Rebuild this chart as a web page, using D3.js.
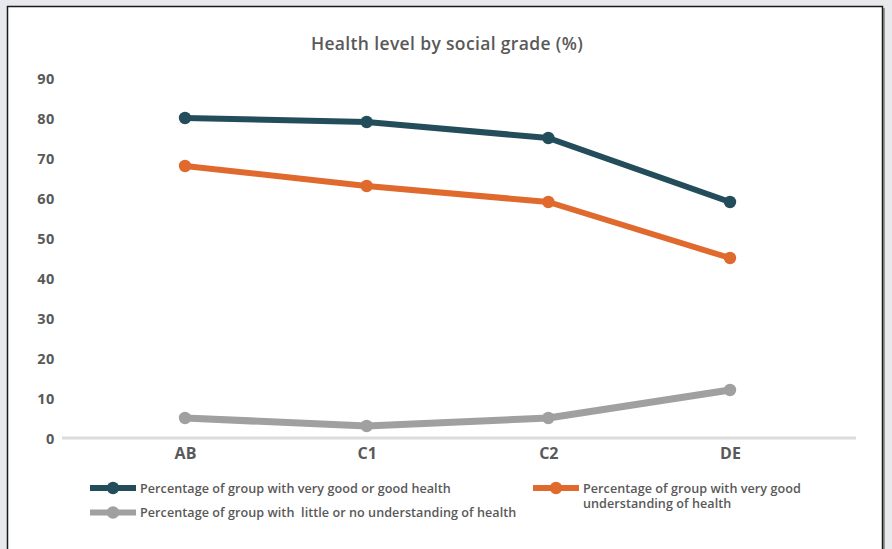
<!DOCTYPE html>
<html>
<head>
<meta charset="utf-8">
<script src="https://cdn.jsdelivr.net/npm/d3@7"></script>
<style>
  html, body { margin: 0; padding: 0; background: #e8e9ec; }
  svg { display: block; }
  text { font-family: "Open Sans", "Noto Sans", sans-serif; fill: #595959; white-space: pre; }
</style>
</head>
<body>
<svg id="chart" width="892" height="549"></svg>
<script>
// Social grades on the x axis
const grades = ["AB", "C1", "C2", "DE"];

// Percentages per grade
const goodHealth = [80, 79, 75, 59];
const goodUnderstanding = [68, 63, 59, 45];
const littleUnderstanding = [5, 3, 5, 12];

const yTicks = [0, 10, 20, 30, 40, 50, 60, 70, 80, 90];

const seriesNames = [
  "Percentage of group with very good or good health",
  "Percentage of group with very good understanding of health",
  "Percentage of group with  little or no understanding of health"
];

const title = "Health level by social grade (%)";

const series = [
  { name: seriesNames[0], values: goodHealth, color: "#244d5b", width: 6 },
  { name: seriesNames[1], values: goodUnderstanding, color: "#e06a2e", width: 6 },
  { name: seriesNames[2], values: littleUnderstanding, color: "#a0a0a0", width: 7 }
];

const svg = d3.select("#chart");

// Card with a dark border and a soft right-hand shadow
svg.append("rect").attr("x", 882).attr("y", 8).attr("width", 3).attr("height", 560).attr("fill", "#9a9a9a");
svg.append("rect").attr("x", 7.5).attr("y", 6.5).attr("width", 875).attr("height", 560)
  .attr("fill", "#fff").attr("stroke", "#1a1a1a").attr("stroke-width", 1.5);

const x = d3.scalePoint().domain(grades).range([185, 730]);
const y = d3.scaleLinear().domain([0, 90]).range([438, 78]);

// Title
svg.append("text").attr("x", 447).attr("y", 50).attr("text-anchor", "middle")
  .style("font-size", "17.5px").style("font-weight", 600).style("letter-spacing", "0.35px")
  .text(title);

// Y axis labels (no axis line)
const yAxis = d3.axisLeft(y).tickValues(yTicks).tickSize(0).tickPadding(0);
const gy = svg.append("g").attr("transform", "translate(55,0)").call(yAxis);
gy.select(".domain").remove();
gy.selectAll("text").style("font-size", "14.5px").style("font-weight", 700)
  .style("letter-spacing", "0.6px").attr("fill", "#595959").attr("dy", "0.36em");

// Baseline
svg.append("line").attr("x1", 62).attr("x2", 856).attr("y1", y(0)).attr("y2", y(0))
  .attr("stroke", "#dcdcdc").attr("stroke-width", 3);

// X axis labels
const xAxis = d3.axisBottom(x).tickSize(0).tickPadding(0);
const gx = svg.append("g").attr("transform", "translate(0,448)").call(xAxis);
gx.select(".domain").remove();
gx.selectAll("text").style("font-size", "16px").style("font-weight", 700)
  .attr("fill", "#595959").attr("dy", "0.71em");

// Lines and markers
const line = d3.line().x((d, i) => x(grades[i])).y(d => y(d));
series.slice().reverse().forEach(s => {
  svg.append("path").datum(s.values).attr("d", line)
    .attr("fill", "none").attr("stroke", s.color).attr("stroke-width", s.width)
    .attr("stroke-linejoin", "round");
  svg.append("g").selectAll("circle").data(s.values).join("circle")
    .attr("cx", (d, i) => x(grades[i])).attr("cy", d => y(d)).attr("r", 6.2)
    .attr("fill", s.color);
});

// Legend
const legendItems = [
  { s: series[0], x: 90, y: 488, lines: [seriesNames[0]] },
  { s: series[1], x: 533, y: 488, lines: ["Percentage of group with very good", "understanding of health"] },
  { s: series[2], x: 90, y: 512.5, lines: [seriesNames[2]] }
];
legendItems.forEach(it => {
  const g = svg.append("g").attr("transform", `translate(${it.x},${it.y})`);
  g.append("line").attr("x1", 0).attr("x2", 46).attr("stroke", it.s.color).attr("stroke-width", 6);
  g.append("circle").attr("cx", 23).attr("r", 6.2).attr("fill", it.s.color);
  const t = g.append("text").attr("x", 50).attr("y", 4.5)
    .style("font-size", "12.6px").style("font-weight", 600).style("letter-spacing", "0.05px");
  it.lines.forEach((l, i) => {
    t.append("tspan").attr("x", 50).attr("dy", i === 0 ? 0 : 15.5).text(l);
  });
});
</script>
</body>
</html>
